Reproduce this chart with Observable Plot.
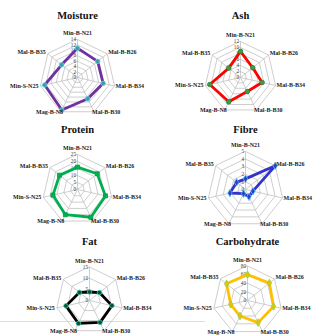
<!DOCTYPE html>
<html><head><meta charset="utf-8">
<script src="https://cdn.jsdelivr.net/npm/d3@7"></script>
<script src="https://cdn.jsdelivr.net/npm/@observablehq/plot@0.6"></script>
<style>
html,body{margin:0;padding:0;background:#fff;}
#root{position:relative;width:314px;height:335px;overflow:hidden;background:#fff;}
.panel{position:absolute;}
.rule{position:absolute;left:0;top:321px;width:205px;height:1px;background:#dcdcdc;}
</style></head><body><div id="root"><div class="rule"></div></div>
<script>
// ---- data ----
const samples = ["Min-B-N21","Mal-B-B26","Mal-B-B34","Mal-B-B30","Mag-B-N8","Min-S-N25","Mal-B-B35"];
const titles = ["Moisture","Ash","Protein","Fibre","Fat","Carbohydrate"];
const moisture = [10.8, 9.5, 9.7, 8.7, 13.3, 12.4, 7.5];
const ash = [8.7, 5.2, 7.4, 5.2, 9.0, 10.5, 5.0];
const protein = [16, 18, 20.5, 22, 20, 18, 16.4];
const fibre = [1.4, 5.0, 1.0, 1.05, 0.6, 2.1, 1.5];
const fat = [3.8, 5.7, 10.3, 10.9, 11.4, 10.8, 5.8];
const carbohydrate = [60, 65, 62, 57, 40, 40, 62];
const moistureTicks = [0,2,4,6,8,10,12,14];
const ashTicks = [0,2,4,6,8,10,12];
const proteinTicks = [0,5,10,15,20,25];
const fibreTicks = [0,1,2,3,4,5];
const fatTicks = [0,5,10,15];
const carbohydrateTicks = [0,20,40,60,80];

const seriesList = [moisture, ash, protein, fibre, fat, carbohydrate];
const tickList = [moistureTicks, ashTicks, proteinTicks, fibreTicks, fatTicks, carbohydrateTicks];

// ---- styles / layout ----
const styles = [
  {line:"#7030a0", fill:"#3d9aa8", stroke:"#5fd3e6", symbol:"circle"},
  {line:"#ff0000", fill:"#3f9b4a", stroke:"#2e7d32", symbol:"circle"},
  {line:"#00b050", fill:"#00b050", stroke:"#00a048", symbol:"square"},
  {line:"#3333cc", fill:"#2b3fc0", stroke:"#4fc3f7", symbol:"diamond"},
  {line:"#000000", fill:"#0d4d3a", stroke:"#3fd0b0", symbol:"circle"},
  {line:"#ffc000", fill:"#f0c000", stroke:"#8fd14f", symbol:"diamond"}
];
const layout = [
  {left:0,   top:0,   cx:77, cy:77, R:38, ty:15},
  {left:157, top:0,   cx:83, cy:77, R:36, ty:15},
  {left:0,   top:112, cx:77, cy:77, R:35, ty:17},
  {left:157, top:112, cx:88, cy:77, R:38, ty:17},
  {left:0,   top:224, cx:89, cy:76, R:33.5, ty:17},
  {left:157, top:224, cx:90, cy:76, R:34.5, ty:17}
];
const labelPos = [
  {anchor:"middle", dx:0,  dy:-6},
  {anchor:"start",  dx:1,  dy:-2},
  {anchor:"start",  dx:1,  dy:0},
  {anchor:"start",  dx:-2, dy:0.5},
  {anchor:"end",    dx:2,  dy:0.5},
  {anchor:"end",    dx:-2, dy:0},
  {anchor:"end",    dx:-2, dy:-2}
];
const FONT = "Liberation Serif, Times New Roman, serif";
const step = 2*Math.PI/samples.length;
const sx = (v,i) => v*Math.sin(i*step);
const sy = (v,i) => v*Math.cos(i*step);

const root = document.getElementById("root");
titles.forEach((title,k) => {
  const vals = seriesList[k], ticks = tickList[k], max = d3.max(ticks);
  const L = layout[k], S = styles[k];
  const pts = samples.map((s,i) => ({s, i, x: sx(vals[i],i), y: sy(vals[i],i)}));
  const rings = ticks.filter(t => t > 0).flatMap(t => samples.map((s,i) => ({t, x: sx(t,i), y: sy(t,i)})));
  const spokes = samples.map((s,i) => ({s, i, x: sx(max,i), y: sy(max,i)}));
  const labelMarks = labelPos.map((p,i) => Plot.text(spokes.filter(d => d.i === i), {
    x:"x", y:"y", text:"s", textAnchor:p.anchor, dx:p.dx, dy:p.dy,
    fontSize:6, fontWeight:"bold", fontFamily:FONT, fill:"#1a1a1a"
  }));
  const h = k >= 4 ? 111 : 112;
  const svg = Plot.plot({
    width:157, height:h, margin:0,
    style:{background:"transparent", overflow:"visible"},
    x:{domain:[-max,max], range:[L.cx-L.R, L.cx+L.R], axis:null},
    y:{domain:[-max,max], range:[L.cy+L.R, L.cy-L.R], axis:null},
    marks:[
      Plot.line(rings, {x:"x", y:"y", z:"t", curve:"linear-closed", stroke:"#bdbdbd", strokeWidth:0.75}),
      Plot.link(spokes, {x1:() => 0, y1:() => 0, x2:"x", y2:"y", stroke:"#bdbdbd", strokeWidth:0.75}),
      Plot.text(ticks, {x:() => 0, y:d => d, text:d => String(d), textAnchor:"end", dx:-1.5,
        fontSize:5.2, fontFamily:FONT, fill:"#404040"}),
      Plot.line(pts, {x:"x", y:"y", curve:"linear-closed", stroke:S.line, strokeWidth:2.8, strokeLinejoin:"round"}),
      Plot.dot(pts, {x:"x", y:"y", symbol:S.symbol, r:2.3, fill:S.fill, stroke:S.stroke, strokeWidth:0.8}),
      ...labelMarks,
      Plot.text([title], {x:() => 0, frameAnchor:"top", lineAnchor:"middle", dy:L.ty, text:d => d,
        fontSize:10.5, fontWeight:"bold", fontFamily:FONT, fill:"#111"})
    ]
  });
  const wrap = document.createElement("div");
  wrap.className = "panel";
  wrap.style.left = L.left + "px";
  wrap.style.top = L.top + "px";
  wrap.appendChild(svg);
  root.appendChild(wrap);
});
</script>
</body></html>
